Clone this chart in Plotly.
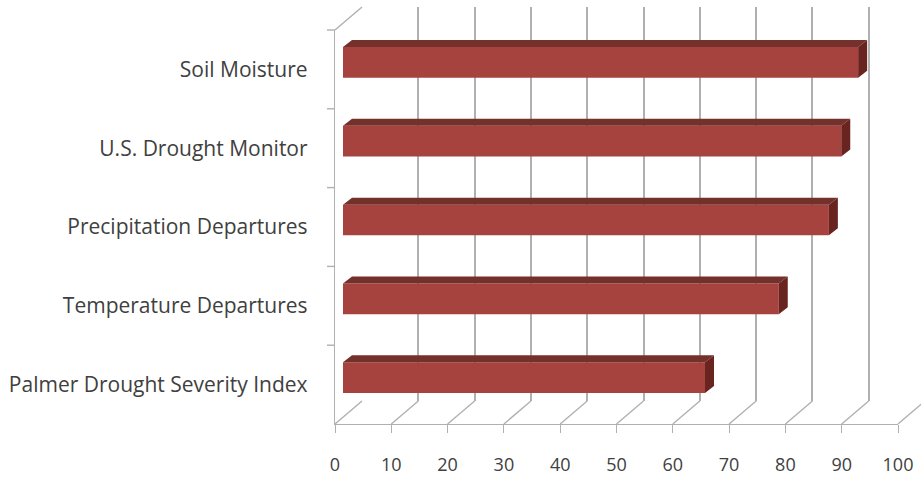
import plotly.graph_objects as go

# ---- data ----
categories = ["Palmer Drought Severity Index", "Temperature Departures",
              "Precipitation Departures", "U.S. Drought Monitor", "Soil Moisture"]
values = [64.3, 77.4, 86.3, 88.5, 91.5]
x_ticks = [0, 10, 20, 30, 40, 50, 60, 70, 80, 90, 100]

# ---- geometry / style constants (pixels) ----
W, H = 921, 479
PXU = 5.63                 # pixels per x unit
FRONT_X0, FLOOR_Y, TOP_Y = 335, 424, 30
DEPTH_DX, DEPTH_DY = 27, 23          # full depth of the 3D box
FACE_DX, FACE_DY = 8, 7              # bar front-face offset into depth
BAR_DDX, BAR_DDY = 9, 7              # bar thickness in depth
BAR_W = 0.39
UY = (FLOOR_Y - TOP_Y) / len(categories)   # pixels per category

GRID = "#b0b0b0"
FACE = "#a6433e"
TOP = "#74302b"
SIDE = "#6a2420"
TEXT = "#404040"
FONT = "Open Sans"

def px(x):
    return x / W

def py(y):
    return 1 - y / H

ypos = list(range(len(categories)))
yr = [-0.5, len(categories) - 0.5]

fig = go.Figure()

# ---- front axes (x/y): labels, floor line, wall line ----
fig.add_trace(go.Scatter(x=[None], y=[None], xaxis="x", yaxis="y",
                         showlegend=False, hoverinfo="skip"))

# ---- back wall grid (axes x2/y2) ----
fig.add_trace(go.Scatter(x=[None], y=[None], xaxis="x2", yaxis="y2",
                         showlegend=False, hoverinfo="skip"))

# ---- bars (axes x3/y3) ----
fig.add_trace(go.Bar(x=values, y=ypos, orientation="h", width=BAR_W,
                     marker=dict(color=FACE, line=dict(width=0)),
                     xaxis="x3", yaxis="y3", showlegend=False, hoverinfo="skip"))
bdx = BAR_DDX / PXU
bdy = BAR_DDY / UY
for i, v in zip(ypos, values):
    yt = i + BAR_W / 2
    yb = i - BAR_W / 2
    fig.add_trace(go.Scatter(x=[0, v, v + bdx, bdx, 0],
                             y=[yt, yt, yt + bdy, yt + bdy, yt],
                             fill="toself", fillcolor=TOP, mode="lines",
                             line=dict(width=0, color=TOP),
                             xaxis="x3", yaxis="y3", showlegend=False,
                             hoverinfo="skip"))
    fig.add_trace(go.Scatter(x=[v, v, v + bdx, v + bdx, v],
                             y=[yb, yt, yt + bdy, yb + bdy, yb],
                             fill="toself", fillcolor=SIDE, mode="lines",
                             line=dict(width=0, color=SIDE),
                             xaxis="x3", yaxis="y3", showlegend=False,
                             hoverinfo="skip"))

# ---- frame (axes x4/y4: whole page, same units as the front axes) ----
ddx_f = DEPTH_DX / PXU
ddy_f = DEPTH_DY / UY
dx_l, dy_l = [], []
for v in x_ticks:
    dx_l += [v, v + ddx_f, None]
    dy_l += [yr[0], yr[0] + ddy_f, None]
dx_l += [0, ddx_f, None]
dy_l += [yr[1], yr[1] + ddy_f, None]
for b in [i + 0.5 for i in ypos]:
    dx_l += [-8 / PXU, 0, None]
    dy_l += [b, b, None]
fig.add_trace(go.Scatter(x=dx_l, y=dy_l, mode="lines", xaxis="x4", yaxis="y4",
                         line=dict(color=GRID, width=1.4),
                         hoverinfo="skip", showlegend=False))

back_x0 = FRONT_X0 + DEPTH_DX
face_x0 = FRONT_X0 + FACE_DX

fig.update_layout(
    template="none",
    width=W, height=H,
    margin=dict(l=0, r=0, t=0, b=0, pad=0),
    paper_bgcolor="white", plot_bgcolor="rgba(0,0,0,0)",
    font=dict(family=FONT, size=18, color=TEXT),
    xaxis=dict(domain=[px(FRONT_X0), px(FRONT_X0 + 100 * PXU)], range=[0, 100],
               anchor="y", tickmode="array", tickvals=x_ticks, automargin=False,
               ticks="outside", ticklen=8, tickcolor=GRID, tickwidth=1.4,
               showline=True, linecolor=GRID, linewidth=1.4,
               showgrid=False, zeroline=False, ticklabelstandoff=16,
               tickfont=dict(family=FONT, size=18, color=TEXT)),
    yaxis=dict(domain=[py(FLOOR_Y), py(TOP_Y)], range=yr, anchor="x",
               tickmode="array", tickvals=ypos, ticktext=categories,
               automargin=False,
               ticks="", showline=True, linecolor=GRID, linewidth=1.4,
               showgrid=False, zeroline=False, ticklabelstandoff=22,
               tickfont=dict(family=FONT, size=21, color=TEXT)),
    xaxis2=dict(domain=[px(back_x0), 1], range=[0, (W - back_x0) / PXU],
                anchor="y2", tickmode="array", tickvals=x_ticks, automargin=False,
                showticklabels=False, showgrid=True, gridcolor=GRID,
                gridwidth=1.6, zeroline=False, showline=False, ticks=""),
    yaxis2=dict(domain=[py(FLOOR_Y - DEPTH_DY), py(TOP_Y - DEPTH_DY)],
                range=yr, anchor="x2", showticklabels=False, showgrid=False,
                zeroline=False, showline=False, ticks="", automargin=False),
    xaxis3=dict(domain=[px(face_x0), px(face_x0 + 100 * PXU)], range=[0, 100],
                anchor="y3", visible=False, automargin=False),
    yaxis3=dict(domain=[py(FLOOR_Y - FACE_DY), py(TOP_Y - FACE_DY)],
                range=yr, anchor="x3", visible=False, automargin=False),
    xaxis4=dict(domain=[0, 1], range=[-FRONT_X0 / PXU, (W - FRONT_X0) / PXU],
                anchor="y4", visible=False, automargin=False),
    yaxis4=dict(domain=[0, 1],
                range=[yr[0] - (H - FLOOR_Y) / UY, yr[1] + TOP_Y / UY],
                anchor="x4", visible=False, automargin=False),
)

fig.write_html("out.html")
